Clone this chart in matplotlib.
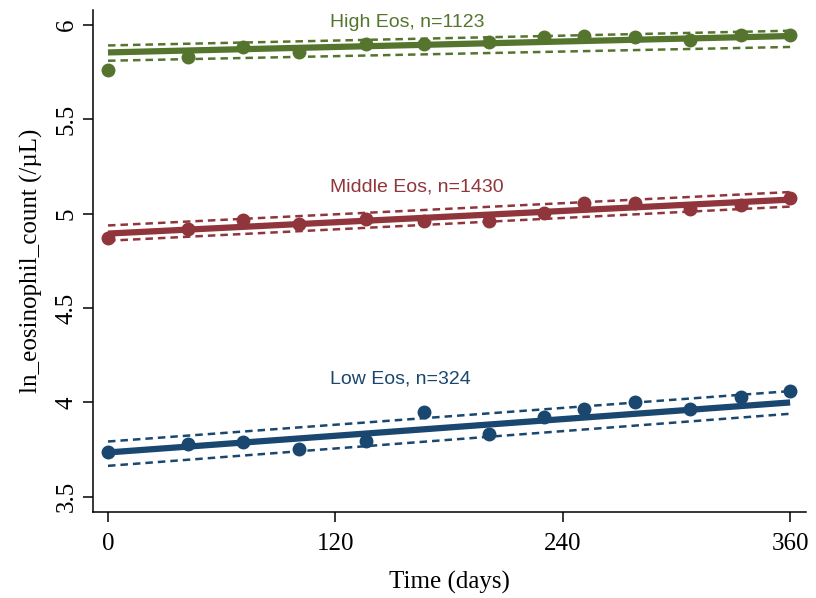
import numpy as np
import matplotlib
matplotlib.use("Agg")
import matplotlib.pyplot as plt

# time points (days) of the group means
days = [0, 42, 71, 101, 136, 167, 201, 230, 251, 278, 307, 334, 360]

# observed group means of ln eosinophil count
high_eos = [5.762, 5.829, 5.882, 5.855, 5.899, 5.899, 5.912, 5.938, 5.942, 5.938, 5.921, 5.947, 5.950]
mid_eos = [4.870, 4.919, 4.967, 4.944, 4.971, 4.962, 4.963, 5.003, 5.059, 5.059, 5.024, 5.047, 5.085]
low_eos = [3.740, 3.779, 3.788, 3.753, 3.797, 3.949, 3.832, 3.925, 3.966, 4.000, 3.965, 4.031, 4.063]

# linear fit and 95% CI, read at day 0 and day 360
fit_days = [0, 360]
high_fit, high_lo, high_hi = [5.855, 5.942], [5.811, 5.884], [5.892, 5.970]
mid_fit, mid_lo, mid_hi = [4.895, 5.075], [4.857, 5.038], [4.938, 5.115]
low_fit, low_lo, low_hi = [3.735, 4.000], [3.664, 3.940], [3.793, 4.060]

labels = ["High Eos, n=1123", "Middle Eos, n=1430", "Low Eos, n=324"]
label_pos = [(117, 6.016), (117, 5.142), (117, 4.125)]
colors = ["#55752F", "#90353B", "#1A476F"]

groups = [
    (high_eos, high_fit, high_lo, high_hi),
    (mid_eos, mid_fit, mid_lo, mid_hi),
    (low_eos, low_fit, low_lo, low_hi),
]

fig = plt.figure(figsize=(8.16, 5.98), dpi=100)
ax = fig.add_axes([0.114, 0.144, 0.874, 0.839])

for (obs, fit, lo, hi), col, lab, pos in zip(groups, colors, labels, label_pos):
    ax.plot(fit_days, lo, color=col, lw=1.8, ls=(0, (3, 2)), zorder=2)
    ax.plot(fit_days, hi, color=col, lw=1.8, ls=(0, (3, 2)), zorder=2)
    ax.plot(fit_days, fit, color=col, lw=4.5, solid_capstyle="butt", zorder=3)
    ax.plot(days, obs, "o", color=col, ms=9, zorder=4)
    ax.text(pos[0], pos[1], lab, color=col, fontsize=14, ha="left", va="center",
            family="Liberation Sans")

ax.set_xlim(-7.9, 368.5)
ax.set_ylim(3.42, 6.079)
ax.set_xticks([0, 120, 240, 360])
ax.set_yticks([3.5, 4, 4.5, 5, 5.5, 6])
ax.set_yticklabels(["3.5", "4", "4.5", "5", "5.5", "6"], rotation=90, va="center")

for lbl in ax.get_xticklabels() + ax.get_yticklabels():
    lbl.set_family("Liberation Serif")
    lbl.set_fontsize(18)

ax.set_xlabel("Time (days)", family="Liberation Serif", fontsize=18, labelpad=12)
ax.set_ylabel("ln_eosinophil_count (/µL)", family="Liberation Serif", fontsize=18, labelpad=9)

ax.spines["top"].set_visible(False)
ax.spines["right"].set_visible(False)
for s in ["left", "bottom"]:
    ax.spines[s].set_linewidth(1.1)
ax.tick_params(direction="out", length=7, width=1.1, pad=4)
ax.tick_params(axis="x", pad=8)

fig.savefig("out.png", dpi=100)
